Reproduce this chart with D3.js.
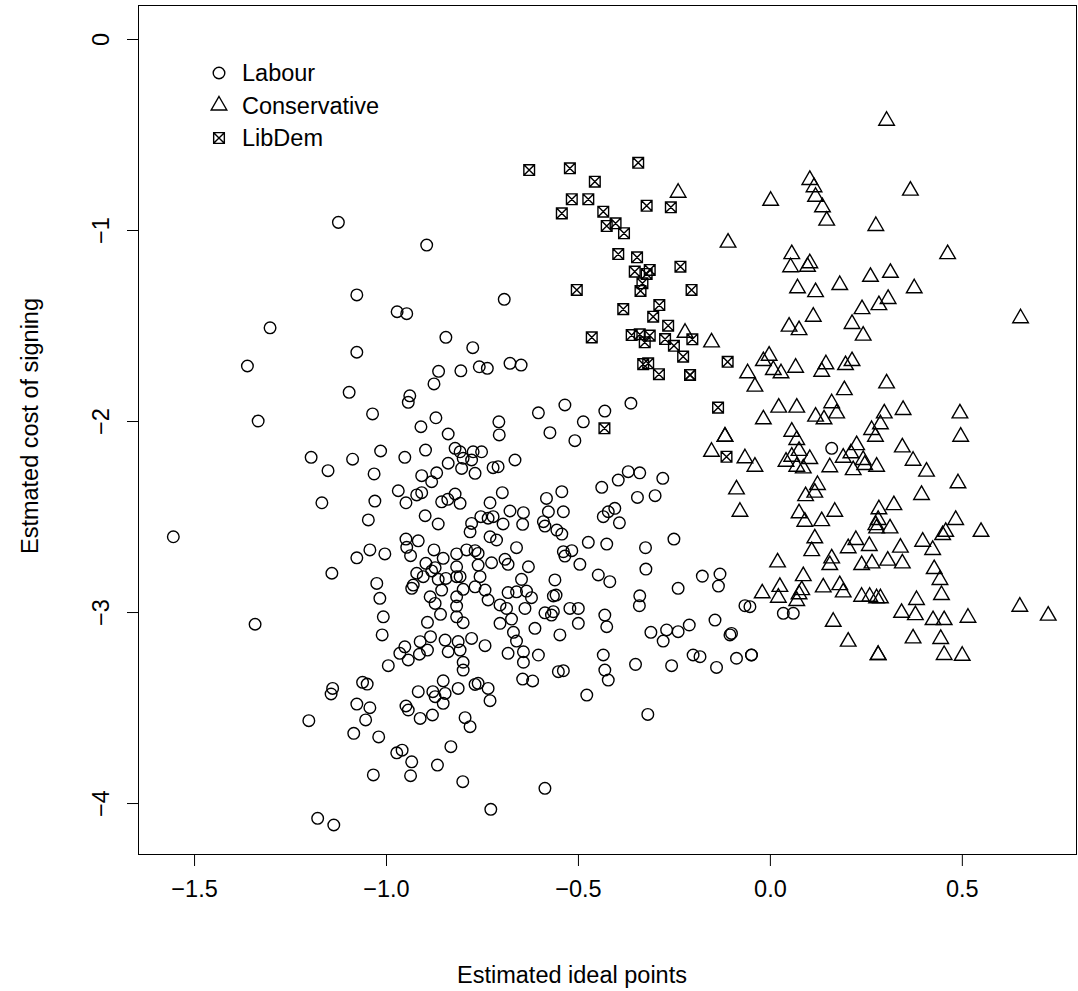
<!DOCTYPE html>
<html>
<head>
<meta charset="utf-8">
<script src="https://cdn.jsdelivr.net/npm/d3@7"></script>
<style>
	body { margin: 0; background: #fff; }
	svg text { font-family: 'Liberation Sans', Arial, sans-serif; fill: #000; }
</style>
</head>
<body>
<script>
// values
var parties = ['Labour', 'Conservative', 'LibDem'];
var xTicks = [-1.5, -1.0, -0.5, 0.0, 0.5];
var yTicks = [0, -1, -2, -3, -4];

var labourX = [
	-1.124, -0.894, -1.076, -0.971, -0.946, -1.302, -0.844, -1.361, -1.076, -0.863,
	-0.875, -1.096, -0.938, -0.942, -1.035, -1.333, -0.870, -0.909, -0.838, -1.195,
	-1.087, -1.014, -0.951, -0.897, -1.151, -1.031, -0.907, -0.868, -0.838, -0.881,
	-0.968, -0.948, -0.920, -0.907, -1.167, -1.029, -0.855, -0.839, -1.046, -0.898,
	-0.864, -1.554, -0.948, -0.916, -0.946, -0.936, -1.042, -1.003, -1.076, -0.875,
	-0.851, -0.896, -0.872, -1.141, -0.920, -0.903, -0.881, -0.864, -0.844, -1.024,
	-0.929, -0.933, -0.855, -1.016, -0.885, -0.872, -1.007, -0.858, -0.892, -1.341,
	-1.010, -0.884, -0.911, -0.846, -0.951, -0.892, -0.964, -0.913, -0.838, -0.994,
	-0.942, -1.139, -1.143, -1.061, -1.049, -0.851, -0.916, -0.878, -0.872, -0.846,
	-0.851, -1.076, -1.042, -0.948, -0.942, -1.053, -0.911, -0.879, -1.201, -1.084,
	-1.019, -0.972, -0.958, -0.933, -0.866, -0.831, -1.033, -0.936, -1.178, -1.136,
	-0.799, -0.799, -0.642, -0.430, -0.421, -0.350, -0.256, -0.139, -0.551, -0.538,
	-0.644, -0.618, -0.768, -0.760, -0.734, -0.812, -0.729, -0.477, -0.318, -0.794,
	-0.781, -0.800, -0.586, -0.727, -0.369, -0.339, -0.395, -0.279, -0.438, -0.345,
	-0.299, -0.820, -0.807, -0.729, -0.697, -0.582, -0.542, -0.677, -0.642, -0.577,
	-0.538, -0.434, -0.421, -0.404, -0.392, -0.753, -0.734, -0.721, -0.695, -0.644,
	-0.590, -0.586, -0.555, -0.542, -0.781, -0.777, -0.729, -0.712, -0.660, -0.473,
	-0.425, -0.324, -0.250, -0.790, -0.768, -0.760, -0.816, -0.538, -0.534, -0.516,
	-0.495, -0.725, -0.690, -0.682, -0.629, -0.760, -0.816, -0.323, -0.816, -0.807,
	-0.755, -0.647, -0.560, -0.447, -0.417, -0.176, -0.130, -0.134, -0.239, -0.768,
	-0.799, -0.742, -0.682, -0.660, -0.634, -0.621, -0.734, -0.816, -0.564, -0.557,
	-0.339, -0.340, -0.065, -0.816, -0.703, -0.686, -0.638, -0.521, -0.499, -0.586,
	-0.564, -0.569, -0.816, -0.799, -0.703, -0.673, -0.430, -0.499, -0.425, -0.612,
	-0.547, -0.668, -0.660, -0.143, -0.210, -0.239, -0.269, -0.310, -0.278, -0.100,
	-0.104, -0.812, -0.777, -0.742, -0.807, -0.682, -0.642, -0.603, -0.434, -0.200,
	-0.182, -0.087, -0.048, -0.048, -0.052, 0.035, 0.061, 0.161,
	-0.692, -0.774, -0.805, -0.757, -0.736, -0.677, -0.648, -0.603, -0.534, -0.430,
	-0.362, -0.706, -0.705, -0.573, -0.486, -0.508, -0.820, -0.807, -0.799, -0.773,
	-0.751, -0.777, -0.664, -0.803, -0.721, -0.708, -0.768
];
var labourY = [
	-0.960, -1.079, -1.340, -1.428, -1.438, -1.512, -1.562, -1.712, -1.640, -1.740,
	-1.806, -1.850, -1.868, -1.902, -1.963, -2.000, -1.983, -2.030, -2.068, -2.190,
	-2.200, -2.157, -2.190, -2.152, -2.260, -2.277, -2.286, -2.271, -2.221, -2.318,
	-2.365, -2.428, -2.387, -2.375, -2.428, -2.419, -2.423, -2.410, -2.518, -2.496,
	-2.539, -2.606, -2.618, -2.627, -2.661, -2.705, -2.675, -2.696, -2.716, -2.675,
	-2.719, -2.745, -2.768, -2.797, -2.797, -2.815, -2.785, -2.829, -2.824, -2.850,
	-2.859, -2.876, -2.885, -2.928, -2.920, -2.955, -3.025, -3.012, -3.054, -3.064,
	-3.120, -3.129, -3.155, -3.147, -3.182, -3.199, -3.216, -3.221, -3.208, -3.281,
	-3.251, -3.400, -3.429, -3.368, -3.377, -3.360, -3.417, -3.417, -3.443, -3.426,
	-3.478, -3.482, -3.501, -3.492, -3.513, -3.565, -3.557, -3.539, -3.569, -3.635,
	-3.654, -3.737, -3.723, -3.784, -3.801, -3.705, -3.853, -3.857, -4.080, -4.115,
	-3.263, -3.304, -3.263, -3.304, -3.356, -3.274, -3.281, -3.290, -3.312, -3.307,
	-3.351, -3.361, -3.379, -3.373, -3.400, -3.400, -3.464, -3.435, -3.536, -3.553,
	-3.600, -3.888, -3.923, -4.033, -2.265, -2.271, -2.309, -2.300, -2.347, -2.400,
	-2.391, -2.382, -2.431, -2.428, -2.375, -2.405, -2.370, -2.471, -2.480, -2.475,
	-2.475, -2.501, -2.475, -2.457, -2.533, -2.501, -2.509, -2.501, -2.539, -2.541,
	-2.527, -2.550, -2.571, -2.592, -2.580, -2.536, -2.606, -2.623, -2.663, -2.635,
	-2.644, -2.663, -2.618, -2.675, -2.679, -2.693, -2.696, -2.684, -2.707, -2.679,
	-2.750, -2.742, -2.724, -2.750, -2.763, -2.754, -2.763, -2.775, -2.815, -2.815,
	-2.815, -2.829, -2.832, -2.806, -2.841, -2.812, -2.801, -2.864, -2.876, -2.868,
	-2.881, -2.885, -2.898, -2.894, -2.890, -2.925, -2.937, -2.920, -2.916, -2.911,
	-2.915, -2.967, -2.967, -2.969, -2.963, -2.981, -2.981, -2.981, -2.981, -3.004,
	-2.998, -3.016, -3.025, -3.056, -3.059, -3.037, -3.016, -3.059, -3.077, -3.085,
	-3.120, -3.106, -3.152, -3.042, -3.068, -3.103, -3.094, -3.106, -3.152, -3.112,
	-3.120, -3.155, -3.138, -3.176, -3.199, -3.216, -3.208, -3.225, -3.225, -3.225,
	-3.234, -3.242, -3.225, -3.225, -2.972, -3.007, -3.007, -2.143,
	-1.363, -1.616, -1.737, -1.716, -1.724, -1.698, -1.707, -1.957, -1.916, -1.948,
	-1.907, -2.004, -2.073, -2.061, -2.004, -2.103, -2.143, -2.161, -2.195, -2.161,
	-2.161, -2.204, -2.204, -2.248, -2.244, -2.239, -2.274
];

var conservativeX = [
	-0.239, -0.109, -0.221, -0.152, -0.058, -0.117, -0.117, -0.152, -0.065, -0.087, -0.078,
	0.304, 0.104, 0.115, 0.119, 0.137, 0.148, 0.002, 0.366, 0.276, 0.463,
	0.057, 0.054, 0.104, 0.098, 0.262, 0.314, 0.182, 0.072, 0.119, 0.376,
	0.240, 0.284, 0.308, 0.113, 0.050, 0.076, 0.214, 0.243, 0.653, -0.002,
	-0.017, 0.009, 0.029, 0.067, -0.039, 0.146, 0.135, 0.197, 0.214, 0.194,
	0.304, 0.023, 0.070, -0.017, 0.119, 0.141, 0.161, 0.174, 0.298, 0.347,
	0.495, 0.497, 0.057, 0.070, 0.265, 0.288, 0.275, 0.345, 0.373, 0.408,
	0.076, 0.042, 0.057, 0.104, 0.070, 0.087, 0.156, 0.191, 0.211, 0.226,
	0.243, 0.247, 0.278, 0.217, -0.039, 0.490, 0.124, 0.117, 0.093, 0.395,
	0.323, 0.284, 0.169, 0.076, 0.091, 0.135, 0.282, 0.313, 0.278, 0.276,
	0.484, 0.458, 0.450, 0.550, 0.117, 0.224, 0.204, 0.259, 0.340, 0.398,
	0.424, 0.109, 0.020, 0.161, 0.156, 0.239, 0.266, 0.307, 0.345, 0.428,
	0.443, 0.087, 0.026, -0.020, 0.022, 0.083, 0.076, 0.070, 0.139, 0.182,
	0.191, 0.239, 0.260, 0.278, 0.288, 0.447, 0.382, 0.651, 0.725, 0.343,
	0.379, 0.425, 0.454, 0.516, 0.165, 0.204, 0.373, 0.445, 0.282, 0.282, 0.454, 0.501
];
var conservativeY = [
	-0.805, -1.066, -1.538, -1.588, -1.750, -2.082, -2.082, -2.161, -2.195, -2.358, -2.475,
	-0.428, -0.738, -0.776, -0.826, -0.881, -0.951, -0.847, -0.794, -0.979, -1.126,
	-1.126, -1.195, -1.174, -1.192, -1.245, -1.224, -1.288, -1.305, -1.325, -1.305,
	-1.414, -1.393, -1.361, -1.454, -1.506, -1.524, -1.492, -1.553, -1.462, -1.658,
	-1.686, -1.733, -1.750, -1.721, -1.820, -1.703, -1.742, -1.707, -1.686, -1.838,
	-1.803, -1.930, -1.930, -1.991, -1.977, -1.991, -1.907, -1.960, -1.960, -1.942,
	-1.960, -2.082, -2.056, -2.099, -2.047, -2.017, -2.082, -2.138, -2.208, -2.265,
	-2.156, -2.213, -2.187, -2.199, -2.239, -2.248, -2.242, -2.192, -2.169, -2.126,
	-2.204, -2.230, -2.239, -2.257, -2.239, -2.326, -2.335, -2.375, -2.393, -2.387,
	-2.440, -2.462, -2.475, -2.483, -2.527, -2.524, -2.518, -2.562, -2.562, -2.545,
	-2.518, -2.580, -2.597, -2.580, -2.614, -2.623, -2.666, -2.654, -2.663, -2.632,
	-2.675, -2.681, -2.740, -2.719, -2.754, -2.754, -2.745, -2.731, -2.745, -2.775,
	-2.832, -2.812, -2.868, -2.902, -2.925, -2.885, -2.907, -2.942, -2.871, -2.859,
	-2.897, -2.920, -2.920, -2.928, -2.928, -2.911, -2.937, -2.972, -3.019, -3.004,
	-3.016, -3.042, -3.042, -3.030, -3.051, -3.155, -3.138, -3.141, -3.225, -3.225, -3.225, -3.229
];

var libdemX = [
	-0.627, -0.521, -0.343, -0.456, -0.516, -0.473, -0.542, -0.434, -0.321, -0.258,
	-0.425, -0.402, -0.380, -0.395, -0.346, -0.352, -0.313, -0.321, -0.233, -0.332,
	-0.337, -0.503, -0.204, -0.382, -0.288, -0.304, -0.265, -0.464, -0.360, -0.339,
	-0.313, -0.326, -0.273, -0.250, -0.202, -0.226, -0.110, -0.330, -0.317, -0.289,
	-0.208, -0.208, -0.135, -0.431, -0.113
];
var libdemY = [
	-0.686, -0.677, -0.648, -0.747, -0.839, -0.839, -0.913, -0.904, -0.873, -0.881,
	-0.979, -0.965, -1.017, -1.126, -1.143, -1.218, -1.209, -1.230, -1.192, -1.279,
	-1.319, -1.314, -1.314, -1.414, -1.393, -1.454, -1.501, -1.562, -1.550, -1.546,
	-1.553, -1.588, -1.571, -1.606, -1.572, -1.663, -1.690, -1.702, -1.698, -1.755,
	-1.759, -1.759, -1.930, -2.038, -2.187
];

var width = 1078, height = 991;
var margin = {top: 5, right: 1, bottom: 136, left: 138};
var fontSize = 23.5;

var x = d3.scaleLinear().domain([-1.646, 0.800]).range([margin.left, width - margin.right]);
var y = d3.scaleLinear().domain([-4.272, 0.178]).range([height - margin.bottom, margin.top]);

var minus = function(s) { return s.replace('-', '\u2212'); };

// R-style plotting symbols (pch 1, 2, 7)
var RAD = 5.8;
var symbols = {
	Labour: function(cx, cy) {
		return 'M' + (cx + RAD) + ',' + cy +
			'A' + RAD + ',' + RAD + ' 0 1,1 ' + (cx - RAD) + ',' + cy +
			'A' + RAD + ',' + RAD + ' 0 1,1 ' + (cx + RAD) + ',' + cy + 'Z';
	},
	Conservative: function(cx, cy) {
		var r = 1.555 * RAD, w = 1.3468 * RAD, b = 0.7776 * RAD;
		return 'M' + cx + ',' + (cy - r) + 'L' + (cx + w) + ',' + (cy + b) + 'L' + (cx - w) + ',' + (cy + b) + 'Z';
	},
	LibDem: function(cx, cy) {
		var s = 0.92 * RAD;
		return 'M' + (cx - s) + ',' + (cy - s) + 'H' + (cx + s) + 'V' + (cy + s) + 'H' + (cx - s) + 'Z' +
			'M' + (cx - s) + ',' + (cy - s) + 'L' + (cx + s) + ',' + (cy + s) +
			'M' + (cx + s) + ',' + (cy - s) + 'L' + (cx - s) + ',' + (cy + s);
	}
};

var series = [
	{name: 'Labour', xs: labourX, ys: labourY},
	{name: 'Conservative', xs: conservativeX, ys: conservativeY},
	{name: 'LibDem', xs: libdemX, ys: libdemY}
];

var svg = d3.select('body')
	.append('svg')
	.attr('width', width)
	.attr('height', height);

svg.append('rect')
	.attr('width', width)
	.attr('height', height)
	.attr('fill', '#fff');

series.forEach(function(s) {
	var pts = s.xs.map(function(d, i) { return [d, s.ys[i]]; });
	svg.append('g')
		.attr('class', 'pts')
		.selectAll('path')
		.data(pts)
		.enter()
		.append('path')
		.attr('d', function(d) { return symbols[s.name](x(d[0]), y(d[1])); })
		.attr('fill', 'none')
		.attr('stroke', '#000')
		.attr('stroke-width', 1.4);
});

// box
svg.append('rect')
	.attr('x', margin.left + 0.5)
	.attr('y', margin.top + 0.5)
	.attr('width', width - margin.right - margin.left - 1)
	.attr('height', height - margin.bottom - margin.top - 1)
	.attr('fill', 'none')
	.attr('stroke', '#000')
	.attr('stroke-width', 1);

var xAxis = d3.axisBottom(x)
	.tickValues(xTicks)
	.tickSize(11)
	.tickPadding(14.5)
	.tickFormat(function(d) { return minus(d3.format('.1f')(d)); });

var gx = svg.append('g')
	.attr('transform', 'translate(0,' + (height - margin.bottom) + ')')
	.call(xAxis);
gx.select('.domain').remove();
gx.selectAll('text')
	.attr('font-size', fontSize)
	.attr('font-family', "'Liberation Sans', Arial, sans-serif");

var yAxis = d3.axisLeft(y)
	.tickValues(yTicks)
	.tickSize(11)
	.tickFormat(function(d) { return minus(d3.format('d')(d)); });

var gy = svg.append('g')
	.attr('transform', 'translate(' + margin.left + ',0)')
	.call(yAxis);
gy.select('.domain').remove();
gy.selectAll('text')
	.attr('font-size', fontSize)
	.attr('font-family', "'Liberation Sans', Arial, sans-serif")
	.attr('transform', 'rotate(-90)')
	.attr('x', 0)
	.attr('y', -29.5)
	.attr('dy', 0)
	.attr('text-anchor', 'middle');

svg.selectAll('.tick line').attr('stroke-width', 1);

// axis titles
svg.append('text')
	.attr('x', 572)
	.attr('y', 975)
	.attr('dy', '0.35em')
	.attr('text-anchor', 'middle')
	.attr('font-size', fontSize)
	.text('Estimated ideal points');

svg.append('text')
	.attr('transform', 'translate(30,426) rotate(-90)')
	.attr('dy', '0.35em')
	.attr('text-anchor', 'middle')
	.attr('font-size', fontSize)
	.text('Estmated cost of signing');

// legend
var legend = svg.append('g').attr('class', 'legend');
parties.forEach(function(p, i) {
	var ly = 73 + i * 32.5;
	legend.append('path')
		.attr('d', symbols[p](219, ly))
		.attr('fill', 'none')
		.attr('stroke', '#000')
		.attr('stroke-width', 1.4);
	legend.append('text')
		.attr('x', 242)
		.attr('y', ly)
		.attr('dy', '0.35em')
		.attr('font-size', fontSize)
		.text(p);
});
</script>
</body>
</html>
